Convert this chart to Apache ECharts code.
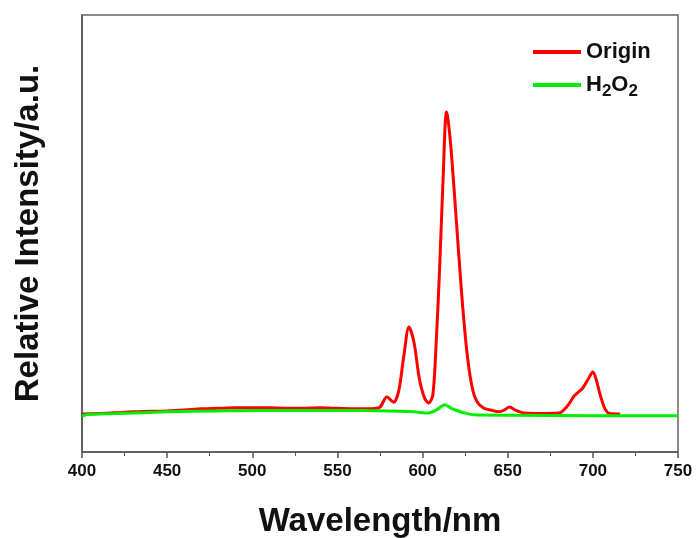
<!DOCTYPE html>
<html>
<head>
<meta charset="utf-8">
<script src="https://cdn.jsdelivr.net/npm/echarts@6/dist/echarts.min.js"></script>
<style>
  html, body { margin: 0; padding: 0; background: #fff; }
  #chart { width: 697px; height: 538px; }
</style>
</head>
<body>
<div id="chart"></div>
<script>
// wavelength (nm) / intensity
var originWl = [400, 410, 420, 430, 440, 450, 460, 470, 480, 490, 500, 510, 520, 530, 540, 550, 560, 570, 575, 579, 583, 586, 589, 592, 595, 598, 601, 603.5, 606, 608, 610, 612, 614, 615, 617, 620, 623, 626, 629, 632, 636, 640, 645, 648, 651, 655, 660, 670, 680, 685, 689, 694, 697, 700, 702, 704, 707, 710, 716];
var originVal = [8.7, 8.8, 9.0, 9.2, 9.3, 9.4, 9.6, 9.9, 10.0, 10.1, 10.1, 10.1, 10.0, 10.0, 10.1, 10.0, 9.9, 9.9, 10.3, 12.6, 11.4, 14, 22, 28.6, 25, 17, 12.5, 11.2, 13, 25, 42, 62, 77.8, 76, 68, 52, 36, 23, 15, 11.5, 10, 9.6, 9.2, 9.6, 10.3, 9.5, 8.9, 8.8, 8.9, 10.5, 12.8, 14.6, 16.5, 18.3, 16.5, 13.5, 10, 8.8, 8.7];

var h2o2Wl = [400, 403, 420, 450, 480, 500, 550, 580, 595, 603, 608, 611, 613, 616, 620, 625, 630, 650, 700, 750];
var h2o2Val = [8.2, 8.6, 8.8, 9.2, 9.4, 9.5, 9.5, 9.4, 9.2, 8.9, 9.6, 10.4, 10.8, 10.2, 9.5, 8.9, 8.5, 8.4, 8.3, 8.3];

var seriesNames = ['Origin', 'H2O2'];
var seriesColors = ['#ff0000', '#00ee00'];

function pairs(xs, ys) {
    var out = [];
    for (var i = 0; i < xs.length; i++) {
        out.push([xs[i], ys[i]]);
    }
    return out;
}

var chart = echarts.init(document.getElementById('chart'));
chart.setOption({
    animation: false,
    color: seriesColors,
    textStyle: { fontFamily: 'Arial, Liberation Sans, sans-serif' },
    grid: {
        left: 82, right: 19, top: 15, bottom: 86,
        outerBoundsMode: 'none',
        containLabel: false,
        show: true, borderColor: '#666', borderWidth: 1.5
    },
    legend: {
        orient: 'vertical',
        left: 528, top: 36,
        itemWidth: 48, itemHeight: 4, itemGap: 11,
        icon: 'rect',
        data: seriesNames,
        formatter: function (name) {
            return name === 'H2O2' ? 'H{s|2}O{s|2}' : name;
        },
        textStyle: {
            color: '#111', fontSize: 22, fontWeight: 'bold',
            rich: {
                s: { fontSize: 17, fontWeight: 'bold', padding: [12, 0, 0, 0], color: '#111' }
            }
        }
    },
    xAxis: {
        type: 'value',
        min: 400, max: 750, interval: 50,
        name: 'Wavelength/nm',
        nameLocation: 'middle',
        nameGap: 53,
        nameTextStyle: { fontSize: 33, fontWeight: 'bold', color: '#111' },
        axisLine: { onZero: false, lineStyle: { color: '#555', width: 1.5 } },
        axisTick: { length: 6, lineStyle: { color: '#555', width: 1.5 } },
        minorTick: { show: true, splitNumber: 2, length: 4, lineStyle: { color: '#555' } },
        axisLabel: { fontSize: 17, fontWeight: 'bold', color: '#111', margin: 11 },
        splitLine: { show: false }
    },
    yAxis: {
        type: 'value',
        min: 0, max: 100,
        name: 'Relative Intensity/a.u.',
        nameLocation: 'middle',
        nameGap: 37,
        nameTextStyle: { fontSize: 33, fontWeight: 'bold', color: '#111' },
        axisLine: { show: true, lineStyle: { color: '#555', width: 1.5 } },
        axisTick: { show: false },
        axisLabel: { show: false },
        splitLine: { show: false }
    },
    series: [{
        name: seriesNames[0],
        type: 'line',
        symbol: 'none',
        smooth: 0.3,
        lineStyle: { width: 3, color: seriesColors[0] },
        data: pairs(originWl, originVal)
    }, {
        name: seriesNames[1],
        type: 'line',
        symbol: 'none',
        smooth: 0.3,
        lineStyle: { width: 3, color: seriesColors[1] },
        data: pairs(h2o2Wl, h2o2Val)
    }]
});
</script>
</body>
</html>
